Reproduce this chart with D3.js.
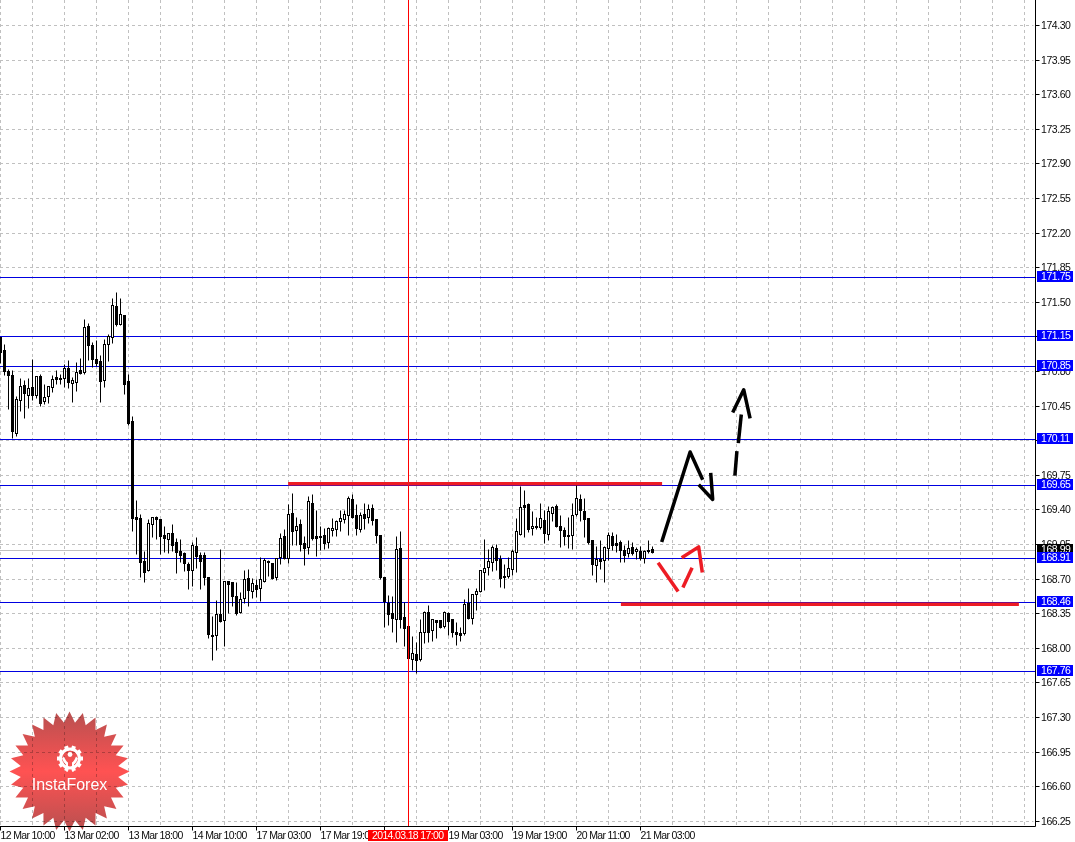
<!DOCTYPE html>
<html>
<head>
<meta charset="utf-8">
<script src="https://cdn.jsdelivr.net/npm/d3@7"></script>
<style>
    body { margin: 0; background: #fff; }
    svg { display: block; }
    text { font-family: "Liberation Sans", sans-serif; font-size: 10.5px; letter-spacing: -0.65px; fill: #0a0a0a; }
    .price-text { letter-spacing: -0.45px; }
</style>
</head>
<body>
<svg class="chart" width="1075" height="842"></svg>
<script>
// hourly candles, index = bar number
const opens = [171.14,171.01,170.80,170.76,170.17,170.51,170.66,170.56,170.64,170.56,170.75,170.50,170.55,170.64,170.74,170.73,170.73,170.83,170.68,170.69,170.81,170.79,171.25,171.06,170.92,170.90,170.71,171.07,171.14,171.46,171.28,171.37,170.70,170.29,169.32,169.31,168.88,168.79,169.25,169.32,169.30,169.14,169.10,169.16,169.07,168.98,168.96,168.85,168.79,169.03,168.94,168.94,168.72,168.13,168.13,168.34,168.28,168.68,168.66,168.52,168.36,168.50,168.71,168.57,168.63,168.60,168.68,168.88,168.86,168.72,168.92,169.13,168.91,169.36,169.19,169.25,169.06,169.02,169.46,169.13,169.13,169.14,169.07,169.19,169.20,169.28,169.30,169.34,169.50,169.34,169.20,169.35,169.32,169.41,169.30,169.14,168.72,168.45,168.35,168.29,169.01,168.31,168.22,167.89,167.94,167.89,168.16,168.36,168.18,168.28,168.28,168.22,168.35,168.29,168.16,168.15,168.15,168.45,168.30,168.54,168.57,168.77,168.82,168.87,169.01,168.90,168.73,168.73,168.80,168.97,169.15,169.44,169.45,169.21,169.23,169.22,169.29,169.15,169.36,169.43,169.23,169.19,169.14,169.14,169.35,169.50,169.38,169.31,169.09,168.84,168.90,168.89,169.01,169.13,169.06,169.07,168.99,168.96,169.02,168.98,168.98,168.91,168.99,169.00];
const highs = [171.14,171.07,170.82,170.81,170.55,170.73,170.71,170.73,170.92,170.75,170.77,170.67,170.65,170.76,170.81,170.77,170.87,170.91,170.74,170.89,170.93,171.33,171.29,171.09,171.11,170.96,171.12,171.17,171.54,171.60,171.54,171.37,170.77,170.34,169.49,169.35,168.98,169.30,169.32,169.33,169.30,169.23,169.16,169.25,169.11,169.10,168.97,168.87,169.07,169.12,168.97,168.97,168.72,168.32,168.48,169.00,168.68,168.68,168.66,168.66,168.56,168.79,168.80,168.71,168.70,168.92,168.91,168.89,168.86,168.91,169.16,169.20,169.45,169.57,169.32,169.30,169.13,169.54,169.56,169.39,169.23,169.21,169.22,169.31,169.29,169.39,169.39,169.54,169.56,169.45,169.37,169.46,169.45,169.45,169.30,169.14,168.72,168.53,168.52,169.13,169.18,168.46,168.22,168.12,168.06,168.29,168.37,168.43,168.29,168.28,168.28,168.37,168.36,168.29,168.26,168.21,168.49,168.60,168.54,168.60,168.79,169.10,169.00,169.04,169.05,168.94,168.85,168.92,169.00,169.31,169.64,169.60,169.46,169.38,169.32,169.46,169.39,169.43,169.43,169.45,169.34,169.22,169.32,169.46,169.68,169.56,169.51,169.31,169.09,169.03,169.09,169.03,169.17,169.17,169.15,169.09,169.04,169.09,169.07,169.02,169.03,168.99,169.09,169.03];
const lows = [170.89,170.77,170.43,170.13,170.15,170.41,170.33,170.44,170.52,170.54,170.46,170.48,170.49,170.60,170.68,170.68,170.65,170.64,170.50,170.61,170.78,170.78,170.92,170.85,170.86,170.50,170.65,170.91,171.09,171.26,171.27,170.58,170.26,169.19,168.96,168.73,168.67,168.79,169.13,169.11,168.96,168.98,168.97,168.99,168.77,168.88,168.79,168.60,168.63,168.82,168.60,168.64,168.11,167.89,167.99,168.27,168.03,168.36,168.43,168.34,168.36,168.46,168.43,168.51,168.52,168.48,168.67,168.74,168.71,168.70,168.86,168.91,168.87,169.05,169.05,168.99,168.85,168.96,169.10,168.94,169.00,169.01,169.02,169.14,169.14,169.19,169.27,169.15,169.32,169.15,169.18,169.21,169.27,169.25,169.07,168.71,168.22,168.24,168.17,168.07,168.21,168.03,167.75,167.78,167.75,167.88,168.06,168.07,168.08,168.11,168.21,168.21,168.14,168.12,168.04,168.08,168.14,168.30,168.25,168.39,168.57,168.59,168.75,168.79,168.80,168.62,168.61,168.72,168.75,168.78,169.15,169.13,169.18,169.15,169.21,169.21,169.07,169.10,169.29,169.23,169.03,169.05,169.02,169.01,169.34,169.29,169.13,169.06,168.75,168.67,168.81,168.67,168.90,169.00,168.98,168.88,168.88,168.93,168.95,168.91,168.90,168.87,168.97,168.97];
const closes = [170.99,170.80,170.76,170.19,170.52,170.65,170.58,170.63,170.56,170.75,170.48,170.54,170.65,170.72,170.72,170.72,170.83,170.69,170.71,170.79,170.78,171.24,171.06,170.92,170.88,170.70,171.07,171.15,171.47,171.28,171.38,170.67,170.27,169.31,169.30,168.87,168.77,169.26,169.32,169.30,169.13,169.11,169.16,169.04,168.97,168.94,168.86,168.79,169.04,168.93,168.88,168.72,168.14,168.12,168.34,168.27,168.68,168.64,168.52,168.35,168.49,168.70,168.58,168.65,168.59,168.70,168.89,168.87,168.71,168.91,169.11,168.91,169.35,169.18,169.23,169.05,169.01,169.48,169.11,169.11,169.12,169.06,169.21,169.21,169.28,169.31,169.35,169.51,169.32,169.21,169.34,169.31,169.40,169.29,169.14,168.72,168.47,168.34,168.30,169.00,168.29,168.20,167.90,167.95,167.88,168.16,168.36,168.16,168.29,168.26,168.21,168.36,168.27,168.16,168.14,168.13,168.44,168.30,168.54,168.57,168.79,168.81,168.88,169.02,168.89,168.71,168.72,168.81,168.98,169.18,169.42,169.42,169.20,169.23,169.22,169.31,169.16,169.38,169.42,169.23,169.19,169.13,169.13,169.34,169.51,169.39,169.30,169.07,168.85,168.90,168.88,169.02,169.14,169.04,169.04,168.99,168.94,169.01,168.96,169.00,168.91,168.98,168.98,168.97];

const priceTicks = [174.30,173.95,173.60,173.25,172.90,172.55,172.20,171.85,171.50,171.15,170.80,170.45,170.10,169.75,169.40,169.05,168.70,168.35,168.00,167.65,167.30,166.95,166.60,166.25];
const timeBars = [0,16,32,48,64,80,96,112,128,144,160];
const timeLabels = ['12 Mar 10:00','13 Mar 02:00','13 Mar 18:00','14 Mar 10:00','17 Mar 03:00','17 Mar 19:00','18 Mar 11:00','19 Mar 03:00','19 Mar 19:00','20 Mar 11:00','21 Mar 03:00'];
const gridBars = d3.range(0, 257, 8);

const levels = [171.75,171.15,170.85,170.11,169.65,168.91,168.46,167.76];
const bid = 168.99;
const crossBar = 102;
const crossLabel = '2014.03.18 17:00';

// thick red support / resistance lines: [bar, price]
const redLevels = [
    [[71.9,169.66],[165.4,169.66]],
    [[155.1,168.44],[254.6,168.44]]
];
// hand drawn arrows: [bar, price]
const blackStrokes = [
    [[165.3,169.07],[172.4,169.98],[175.55,169.70]],
    [[177.55,169.77],[178.05,169.50],[174.55,169.65]],
    [[183.6,169.74],[184.1,169.99]],
    [[184.45,170.07],[185.2,170.36]],
    [[183.05,170.38],[185.8,170.61],[187.4,170.32]]
];
const redStrokes = [
    [[164.4,168.86],[169.4,168.57]],
    [[170.6,168.61],[172.9,168.81]],
    [[170.3,168.91],[174.55,169.02],[175.45,168.76]]
];

const svg = d3.select('.chart')
const plotRight = 1035.5
const plotBottom = 826.5

const xscale = d3.scaleLinear().domain([0, 1]).range([0.5, 4.5])
const yscale = d3.scaleLinear().domain([174.30, 166.25]).range([25, 820.7])
const py = p => Math.round(yscale(p)) + 0.5

// grid
const grid = svg.append('g').attr('stroke', '#c0c0c0').attr('stroke-dasharray', '3,3')
grid.selectAll('.h').data(priceTicks).enter().append('line')
    .attr('x1', 0).attr('x2', plotRight - 2)
    .attr('y1', d => py(d)).attr('y2', d => py(d))
grid.selectAll('.v').data(gridBars).enter().append('line')
    .attr('x1', d => xscale(d)).attr('x2', d => xscale(d))
    .attr('y1', 0).attr('y2', plotBottom)

// logo, the star multiplies so the grid shows through
const defs = svg.append('defs')
const grad = defs.append('linearGradient').attr('id', 'logoFill')
    .attr('x1', 0).attr('x2', 0).attr('y1', 0).attr('y2', 1)
grad.append('stop').attr('offset', '0%').attr('stop-color', '#b85050')
grad.append('stop').attr('offset', '50%').attr('stop-color', '#ff5252')
grad.append('stop').attr('offset', '100%').attr('stop-color', '#b85050')

const logo = svg.append('g').attr('transform', 'translate(69.5,771.5)')
const star = d3.lineRadial().curve(d3.curveLinearClosed)(
    d3.range(56).map(i => [i * Math.PI / 28, i % 2 ? 49 : 60]))
logo.append('path').attr('d', star).attr('fill', 'url(#logoFill)')
    .style('mix-blend-mode', 'multiply')
const gear = logo.append('g').attr('transform', 'translate(0.5,-13)').attr('fill', '#fff')
gear.selectAll('rect').data(d3.range(10)).enter().append('rect')
    .attr('x', -2).attr('y', -13).attr('width', 4).attr('height', 5)
    .attr('transform', d => `rotate(${d * 36 + 18})`)
gear.append('circle').attr('r', 9.5).attr('fill', 'none').attr('stroke', '#fff').attr('stroke-width', 3)
gear.append('circle').attr('cy', -4).attr('r', 2.4)
gear.append('path').attr('d', 'M-6,-2 Q-4,3 -2,4 V13 H2 V4 Q4,3 6,-2 L8,0 Q6,5 4,6 V13 H-4 V6 Q-6,5 -8,0 Z')
logo.append('text').attr('x', 0).attr('y', 18).attr('text-anchor', 'middle')
    .style('font-size', '16px').style('letter-spacing', '0').style('fill', '#fff').text('InstaForex')

// bid and level lines
svg.append('line').attr('x1', 0).attr('x2', plotRight)
    .attr('y1', py(bid)).attr('y2', py(bid)).attr('stroke', '#c0c0c0')
svg.selectAll('.level').data(levels).enter().append('line')
    .attr('x1', 0).attr('x2', plotRight)
    .attr('y1', d => py(d)).attr('y2', d => py(d))
    .attr('stroke', '#0000e0')

// candles
const bars = svg.append('g').selectAll('g').data(opens).enter().append('g')
bars.append('line')
    .attr('x1', (d, i) => xscale(i)).attr('x2', (d, i) => xscale(i))
    .attr('y1', (d, i) => py(highs[i])).attr('y2', (d, i) => py(lows[i]) + 1)
    .attr('stroke', '#000')
bars.append('rect')
    .attr('x', (d, i) => xscale(i) - 1)
    .attr('width', 2)
    .attr('y', (d, i) => py(Math.max(d, closes[i])))
    .attr('height', (d, i) => py(Math.min(d, closes[i])) - py(Math.max(d, closes[i])))
    .attr('fill', (d, i) => closes[i] > d ? '#fff' : '#000')
    .attr('stroke', '#000')

// crosshair
svg.append('line').attr('x1', xscale(crossBar)).attr('x2', xscale(crossBar))
    .attr('y1', 0).attr('y2', plotBottom).attr('stroke', '#ff0000')

// red levels and hand drawn strokes
const strokeLine = d3.line().x(d => xscale(d[0])).y(d => yscale(d[1]))
svg.selectAll('.red-level').data(redLevels).enter().append('path')
    .attr('d', strokeLine).attr('fill', 'none')
    .attr('stroke', '#ed1c24').attr('stroke-width', 3.5)
svg.selectAll('.blk').data(blackStrokes).enter().append('path')
    .attr('d', strokeLine).attr('fill', 'none')
    .attr('stroke', '#000').attr('stroke-width', 3.5).attr('stroke-linejoin', 'round')
svg.selectAll('.rd').data(redStrokes).enter().append('path')
    .attr('d', strokeLine).attr('fill', 'none')
    .attr('stroke', '#ed1c24').attr('stroke-width', 3.5).attr('stroke-linejoin', 'round')

// axes
const yAxis = d3.axisRight(yscale).tickValues(priceTicks).tickSize(4).tickPadding(2)
    .tickFormat(d3.format('.2f'))
const yg = svg.append('g').attr('transform', `translate(${plotRight},0)`).call(yAxis)
yg.attr('font-family', null).attr('font-size', null)
yg.select('.domain').attr('d', `M0,0V${plotBottom}`).attr('stroke', '#000')
yg.selectAll('text').attr('class', 'price-text').attr('x', 5.5).attr('dy', '0.32em')
yg.selectAll('.tick').attr('transform', d => `translate(0,${py(d)})`)

const xAxis = d3.axisBottom(xscale).tickValues(timeBars).tickSize(4).tickPadding(2)
    .tickFormat((d, i) => timeLabels[i])
const xg = svg.append('g').attr('transform', `translate(0,${plotBottom})`).call(xAxis)
xg.attr('font-family', null).attr('font-size', null)
xg.select('.domain').attr('d', `M0,0H${plotRight}`).attr('stroke', '#000')
xg.selectAll('.tick').attr('transform', d => `translate(${xscale(d)},0)`)
xg.selectAll('text').attr('text-anchor', 'start').attr('x', 0).attr('y', 5.5).attr('dy', '0.71em')

// price tags on the right axis
const tag = (price, bg) => {
    const y = py(price)
    svg.append('rect').attr('x', 1037).attr('y', y - 6.5).attr('width', 36).attr('height', 11).attr('fill', bg)
    svg.append('text').attr('class', 'price-text').attr('x', 1041).attr('y', y - 1).attr('dy', '0.32em')
        .style('fill', '#fff').text(d3.format('.2f')(price))
}
tag(bid, '#000')
levels.forEach(d => tag(d, '#0000ff'))

// crosshair time tag
svg.append('rect').attr('x', 368).attr('y', 830).attr('width', 80).attr('height', 11).attr('fill', '#ff0000')
svg.append('text').attr('x', 372).attr('y', 839).style('fill', '#fff').text(crossLabel)
</script>
</body>
</html>
